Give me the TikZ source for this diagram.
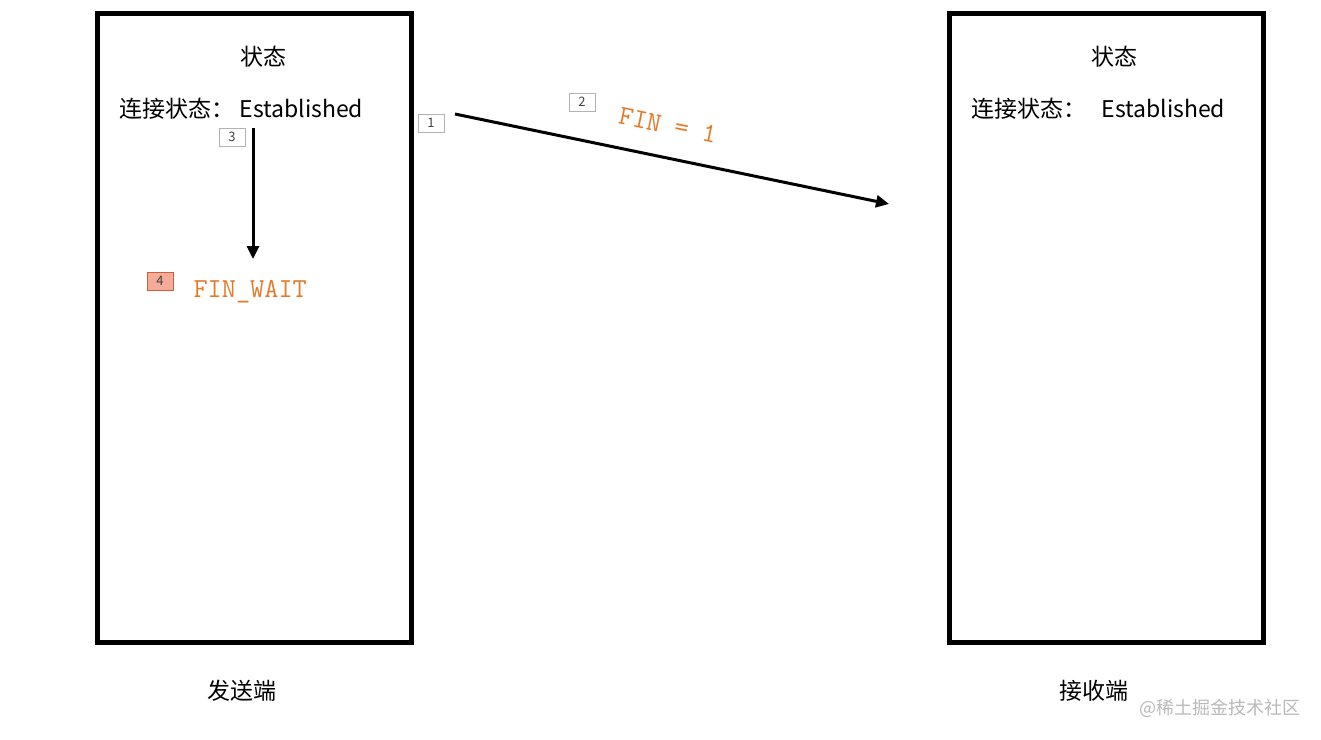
\documentclass[tikz,border=0pt]{standalone}
\usepackage{fontspec}
\usetikzlibrary{arrows.meta}
\setmainfont{Noto Sans CJK SC}
\definecolor{finorange}{RGB}{226,122,40}
\definecolor{tagfill}{RGB}{244,172,152}
\definecolor{tagdraw}{RGB}{208,92,62}
\tikzset{
	host/.style={draw, line width=5pt, minimum width=314pt, minimum height=629pt, inner sep=0pt},
	numtag/.style={draw=gray!60, line width=0.8pt, minimum width=26pt, minimum height=18pt, inner sep=0pt, font=\fontsize{13}{13}\selectfont, text=black!75},
	flag/.style={text=finorange, font=\ttfamily\fontsize{27.5}{27.5}\selectfont},
	txt/.style={font=\fontsize{23}{23}\selectfont},
	msg/.style={line width=3pt, -{Triangle[length=13pt,width=12pt]}}
}
\begin{document}
\begin{tikzpicture}[x=1pt,y=-1pt]
		\useasboundingbox (0,0) rectangle (1321,739);
		% the two ends
		\node[host] (sender) at (254,327.5) {};
		\node[host] (receiver) at (1106,327.5) {};
		\node[txt] (sstate) at (263,57) {状态};
		\node[txt] (rstate) at (1114,57) {状态};
		\node[txt, anchor=west] (sconn) at (116,109) {连接状态：\hspace{5pt}Established};
		\node[txt, anchor=west] (rconn) at (968,109) {连接状态：\hspace{15pt}Established};
		\node[txt] (sname) at (242,691) {发送端};
		\node[txt] (rname) at (1094,691) {接收端};
		% state change
		\coordinate (sdown) at (253,128);
		\coordinate (swait) at (253,259);
		\draw[msg] (sdown) -- (swait);
		\node[numtag] (t3) at (232,137) {3};
		\node[numtag, fill=tagfill, draw=tagdraw] (t4) at (160,281) {4};
		\node[flag, anchor=west] (finwait) at (190,292) {FIN\_WAIT};
		% message
		\coordinate (finstart) at (455,114);
		\coordinate (finend) at (889,204);
		\draw[msg] (finstart) -- (finend);
		\node[numtag] (t1) at (431,123) {1};
		\node[numtag] (t2) at (582,102) {2};
		\node[flag, rotate=-11.7, inner sep=0pt] (fin) at (668,125) {FIN = 1};
		\node[text=gray!55, font=\fontsize{18}{18}\selectfont] (mark) at (1220,708) {@稀土掘金技术社区};
\end{tikzpicture}
\end{document}
